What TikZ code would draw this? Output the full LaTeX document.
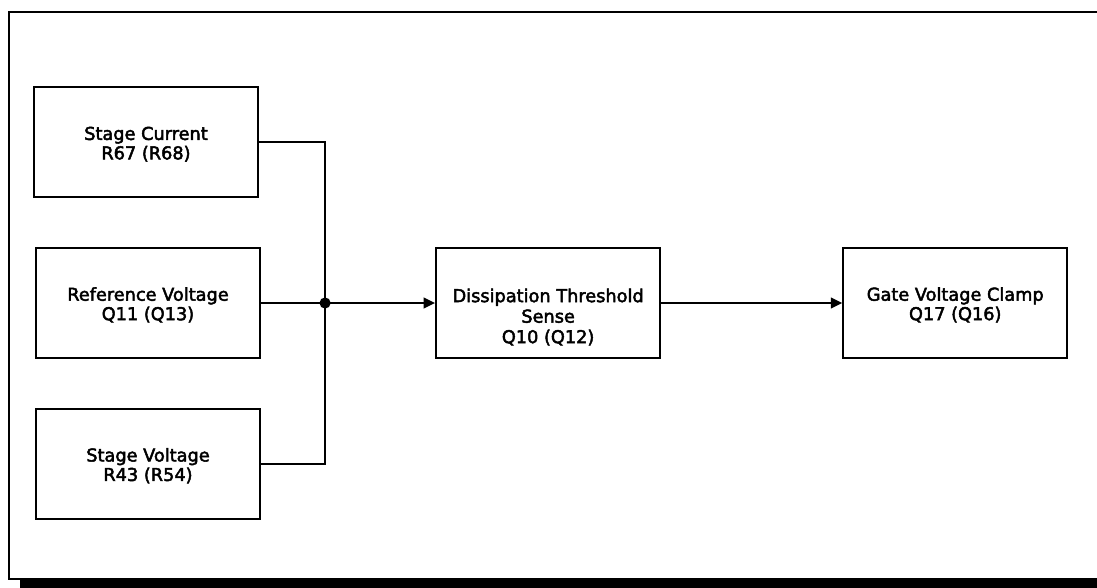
\documentclass[tikz,border=0pt]{standalone}
\usepackage{fontspec}
\setmainfont{DejaVu Sans}[FakeBold=2.6]
\usetikzlibrary{arrows.meta, positioning}

\begin{document}
\begin{tikzpicture}[
  x=0.75pt, y=-0.75pt,
  font=\fontsize{13.3}{14.6}\selectfont,
  node distance=36.5pt and 130.5pt,
  blk/.style={rectangle, draw, line width=1.6pt, minimum width=168pt,
    minimum height=82.5pt, align=center, inner sep=2pt, text height=27.5pt},
  wire/.style={line width=1.3pt},
  arr/.style={-{Triangle[length=8.5pt, width=8pt]}, line width=1.3pt}
]
\useasboundingbox (0,0) rectangle (1097,587);
% outer frame with shadow
\fill (20,579) rectangle (1110,590);
\draw[line width=2pt] (1110,12) -- (9,12) -- (9,579) -- (1110,579);

\node[blk] (ref) at (148,303) {Reference Voltage\\ Q11 (Q13)};
\node[blk, above=of ref, xshift=-1.5pt] (cur) {Stage Current\\ R67 (R68)};
\node[blk, below=of ref] (vol) {Stage Voltage\\ R43 (R54)};
\node[blk, right=of ref, font=\fontsize{13.3}{15.4}\selectfont, text height=62pt]
  (dis) {Dissipation Threshold\\ Sense\\ Q10 (Q12)};
\node[blk, right=135.75pt of dis] (clamp) {Gate Voltage Clamp\\ Q17 (Q16)};
\coordinate[right=48pt of ref] (j);

\draw[wire] (cur) -| (j);
\draw[wire] (vol) -| (j);
\draw[wire] (ref) -- (j);
\fill (j) circle (4.2pt);
\draw[arr] (j) -- (dis);
\draw[arr] (dis) -- (clamp);
\end{tikzpicture}
\end{document}
